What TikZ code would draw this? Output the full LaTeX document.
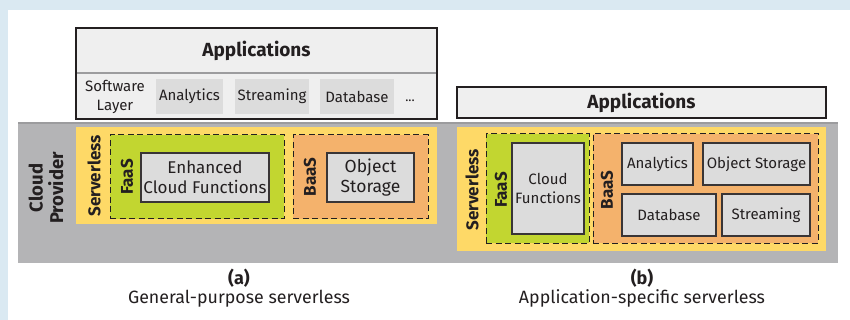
\documentclass[tikz,border=0pt]{standalone}
\usepackage{fontspec}
\setmainfont{Fira Sans}
\definecolor{pageblue}{HTML}{DAE9F2}
\definecolor{cloudgray}{HTML}{B4B4B6}
\definecolor{cloudedge}{HTML}{9C9C9E}
\definecolor{srvyellow}{HTML}{FED967}
\definecolor{faasgreen}{HTML}{C2D630}
\definecolor{baasorange}{HTML}{F4B26C}
\definecolor{boxgray}{HTML}{DCDCDC}
\definecolor{appfill}{HTML}{EFEFEF}
\definecolor{ink}{HTML}{231F20}
\newcommand{\fs}[2]{\fontsize{#1}{#2}\selectfont}
\tikzset{
  area/.style={anchor=north west, inner sep=0pt, outer sep=0pt},
  appbox/.style={area, fill=appfill, draw=ink, line width=1.3pt},
  swbox/.style={area, fill=boxgray, font=\fs{15}{18}, text=ink},
  svcbox/.style={area, fill=boxgray, draw=ink!90, line width=1.2pt, text=ink, align=center},
  layer/.style={area},
  dashedlayer/.style={area, draw=ink, line width=1pt, dash pattern=on 6pt off 3.5pt},
  vlabel/.style={rotate=90, font=\bfseries\fs{17}{19}, text=ink, inner sep=0pt},
  caption/.style={font=\fs{17.8}{20}, text=ink, inner sep=0pt},
}
\begin{document}
\begin{tikzpicture}[x=1pt, y=-1pt]
\useasboundingbox (0,0) rectangle (850,320);
% page frame
\fill[pageblue] (0,0) rectangle (850,320);
\fill[white] (8,10) rectangle (850,320);

% cloud provider band
\node[layer, fill=cloudgray, minimum width=820, minimum height=140] (cloud) at (18,123) {};
\draw[cloudedge, line width=1.2pt] (cloud.north west) -- (cloud.north east);
\node[rotate=90, font=\bfseries\fs{18.5}{20.5}, text=ink, align=center, inner sep=0pt] (cloudlbl) at (46,188) {Cloud\\Provider};

% ---------------- (a) general-purpose serverless ----------------
\node[appbox, minimum width=361, minimum height=91] (appsA) at (76,28) {};
\node[area, minimum width=361, minimum height=45, font=\bfseries\fs{19}{20}, text=ink] (hdrA) at (76,28) {Applications};
\draw[cloudedge, line width=1.5pt] (hdrA.south west) -- (hdrA.south east);
\draw[ink, line width=1.3pt] (appsA.north west) rectangle (appsA.south east);
\node[font=\fs{15}{19}, text=ink, align=center, inner sep=0pt] (swA) at (115,97) {Software\\Layer};
\node[swbox, minimum width=67, minimum height=35] (anaA) at (156,79) {Analytics};
\node[swbox, minimum width=74, minimum height=35] (strA) at (235,79) {Streaming};
\node[swbox, minimum width=74, minimum height=35] (dbA) at (320,79) {Database};
\node[font=\fs{13}{15}, text=ink, inner sep=0pt] (dotsA) at (410,101) {...};

\node[layer, fill=srvyellow, minimum width=361, minimum height=97] (srvA) at (76,127) {};
\node[vlabel] (srvlblA) at (94,176) {Serverless};
\node[dashedlayer, fill=faasgreen, minimum width=174, minimum height=84] (faasA) at (110,135) {};
\node[vlabel] (faaslblA) at (127,177) {FaaS};
\node[svcbox, minimum width=128, minimum height=49, font=\fs{17}{20}] (ecfA) at (141,153) {Enhanced\\Cloud Functions};
\node[dashedlayer, fill=baasorange, minimum width=135, minimum height=84] (baasA) at (293,135) {};
\node[vlabel] (baaslblA) at (310,177) {BaaS};
\node[svcbox, minimum width=87, minimum height=49, font=\fs{17.5}{20}] (objA) at (327,153) {Object\\Storage};

\node[caption, font=\bfseries\fs{18}{20}] (capA) at (239,278) {(a)};
\node[caption] (subA) at (239,299) {General-purpose serverless};

% ---------------- (b) application-specific serverless ----------------
\node[appbox, minimum width=369, minimum height=31, font=\bfseries\fs{19}{20}, text=ink] (appsB) at (457,87) {Applications};

\node[layer, fill=srvyellow, minimum width=369, minimum height=124] (srvB) at (457,127) {};
\node[vlabel] (srvlblB) at (472,190) {Serverless};
\node[dashedlayer, fill=faasgreen, minimum width=103, minimum height=109] (faasB) at (486,134) {};
\node[vlabel] (faaslblB) at (501,190) {FaaS};
\node[svcbox, minimum width=72, minimum height=91, font=\fs{15}{19}] (cfB) at (512,143) {Cloud\\Functions};
\node[dashedlayer, fill=baasorange, minimum width=225, minimum height=109] (baasB) at (593,134) {};
\node[vlabel] (baaslblB) at (607,190) {BaaS};
\node[svcbox, minimum width=71, minimum height=42, font=\fs{15}{18}] (anaB) at (622,143) {Analytics};
\node[svcbox, minimum width=107, minimum height=42, font=\fs{15}{18}] (objB) at (703,143) {Object Storage};
\node[svcbox, minimum width=94, minimum height=42, font=\fs{15}{18}] (dbB) at (622,194) {Database};
\node[svcbox, minimum width=88, minimum height=42, font=\fs{15}{18}] (strB) at (722,194) {Streaming};

\node[caption, font=\bfseries\fs{18}{20}] (capB) at (642,278) {(b)};
\node[caption] (subB) at (642,298) {Application-specific serverless};
\end{tikzpicture}
\end{document}
